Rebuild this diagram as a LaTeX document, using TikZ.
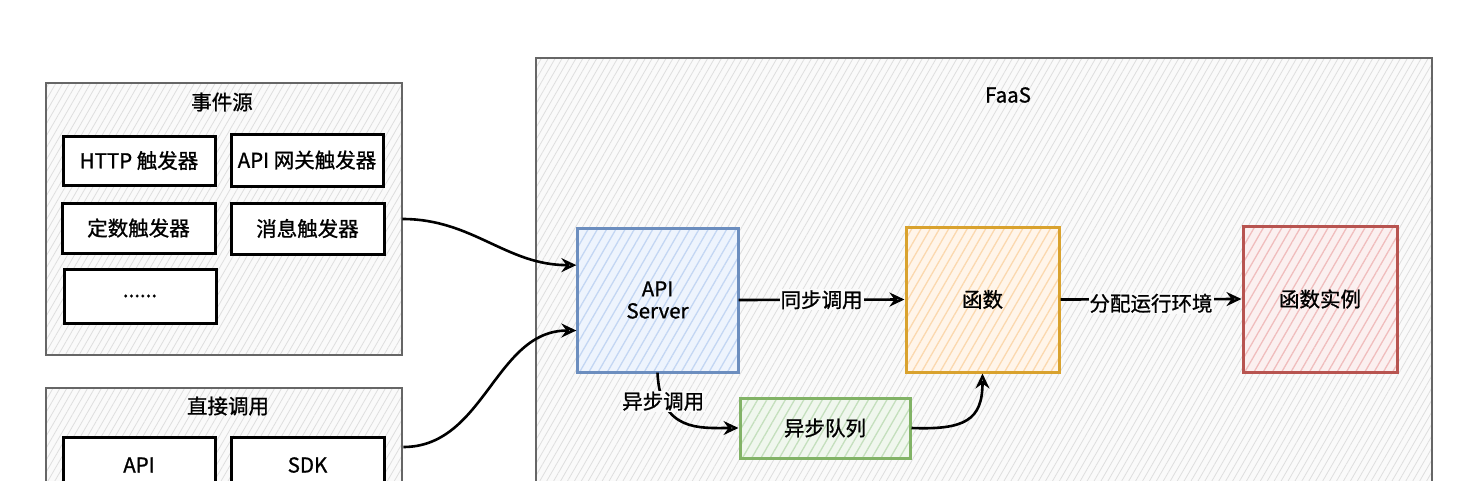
\documentclass[tikz,border=0pt]{standalone}
\usepackage{fontspec}
\setmainfont{Noto Sans CJK SC}[FakeBold=1.0]
\usetikzlibrary{patterns.meta,arrows.meta,calc}
\definecolor{greybg}{HTML}{FAFAFA}
\definecolor{greyhatch}{HTML}{DEDEDE}
\definecolor{greyline}{HTML}{666666}
\definecolor{bluebg}{HTML}{EEF4FD}
\definecolor{bluehatch}{HTML}{C3D6F3}
\definecolor{blueline}{HTML}{6C8EBF}
\definecolor{orangebg}{HTML}{FFF5EA}
\definecolor{orangehatch}{HTML}{FBD8AE}
\definecolor{orangeline}{HTML}{D9A22E}
\definecolor{redbg}{HTML}{FBF0F0}
\definecolor{redhatch}{HTML}{F0BDBD}
\definecolor{redline}{HTML}{B85450}
\definecolor{greenbg}{HTML}{F0F7EE}
\definecolor{greenhatch}{HTML}{C4DFBD}
\definecolor{greenline}{HTML}{82B366}
\begin{document}
\begin{tikzpicture}[x=1pt,y=-1pt,
  txt/.style={font=\fontsize{20.5}{24}\selectfont, text=black},
  group/.style={draw=greyline, line width=2.6pt, inner sep=0pt,
    preaction={fill=greybg},
    pattern={Lines[angle=60,distance=6pt,line width=0.8pt]}, pattern color=greyhatch},
  item/.style={txt, draw=black, line width=3pt, fill=white, inner sep=0pt},
  hbox/.style={txt, line width=3pt, inner sep=0pt},
  bluebox/.style={hbox, draw=blueline, preaction={fill=bluebg},
    pattern={Lines[angle=60,distance=8pt,line width=1.3pt]}, pattern color=bluehatch},
  orangebox/.style={hbox, draw=orangeline, preaction={fill=orangebg},
    pattern={Lines[angle=60,distance=8pt,line width=1.3pt]}, pattern color=orangehatch},
  redbox/.style={hbox, draw=redline, preaction={fill=redbg},
    pattern={Lines[angle=60,distance=8pt,line width=1.3pt]}, pattern color=redhatch},
  greenbox/.style={hbox, draw=greenline, preaction={fill=greenbg},
    pattern={Lines[angle=60,distance=8pt,line width=1.3pt]}, pattern color=greenhatch},
  arr/.style={draw=black, line width=2.6pt, -{Stealth[open,length=15pt,width=14pt,line width=2.4pt,inset=5pt]}},
  elabel/.style={txt, fill=greybg, inner sep=1pt}
]
\useasboundingbox (0,0) rectangle (1464,480);
\clip (0,0) rectangle (1464,480);
\fill[white] (0,0) rectangle (1464,480);

% event source group
\node[group, minimum width=356pt, minimum height=272pt] (es) at (224,219) {};
\node[txt] (estitle) at (222,102) {事件源};
\node[item, minimum width=152pt, minimum height=49pt] (http) at (139,160.5) {HTTP 触发器};
\node[item, minimum width=152pt, minimum height=52pt] (gw) at (307,160) {API 网关触发器};
\node[item, minimum width=153pt, minimum height=50pt] (timer) at (138.5,228) {定数触发器};
\node[item, minimum width=153pt, minimum height=51pt] (msg) at (307.5,228.5) {消息触发器};
\node[item, minimum width=152pt, minimum height=54pt] (more) at (140,296) {......};

% direct call group
\node[group, minimum width=356pt, minimum height=118pt] (dc) at (224,447) {};
\node[txt] (dctitle) at (228,406) {直接调用};
\node[item, minimum width=152pt, minimum height=56pt] (api) at (139,465) {API};
\node[item, minimum width=153pt, minimum height=56pt] (sdk) at (307.5,465) {SDK};

% FaaS group
\node[group, minimum width=896pt, minimum height=460pt] (faas) at (984,288) {};
\node[txt] (faastitle) at (1008,95) {FaaS};

\node[bluebox, minimum width=161pt, minimum height=144pt, align=center] (apis) at (657.5,300) {API\\[-2pt]Server};
\node[orangebox, minimum width=153pt, minimum height=145pt] (fn) at (982.5,299.5) {函数};
\node[redbox, minimum width=154pt, minimum height=146pt] (inst) at (1320,299) {函数实例};
\node[greenbox, minimum width=170pt, minimum height=60pt] (aq) at (825,428) {异步队列};

\coordinate (in1) at ($(apis.north west)!0.26!(apis.south west)$);
\coordinate (in2) at ($(apis.north west)!0.71!(apis.south west)$);

\draw[arr] (es.east) to[out=0,in=180] (in1);
\draw[arr] (dc.east) to[out=0,in=180] (in2);
\draw[arr] (apis.east) -- node[elabel] {同步调用} (fn.west);
\draw[arr] (fn.east) -- node[elabel, yshift=-4pt] {分配运行环境} (inst.west);
\draw[arr] (apis.south) .. controls (660,432) and (700,428) .. node[elabel, pos=0.2] {异步调用} (aq.west);
\draw[arr] (aq.east) .. controls (965,430) and (982.5,420) .. (fn.south);
\end{tikzpicture}
\end{document}
